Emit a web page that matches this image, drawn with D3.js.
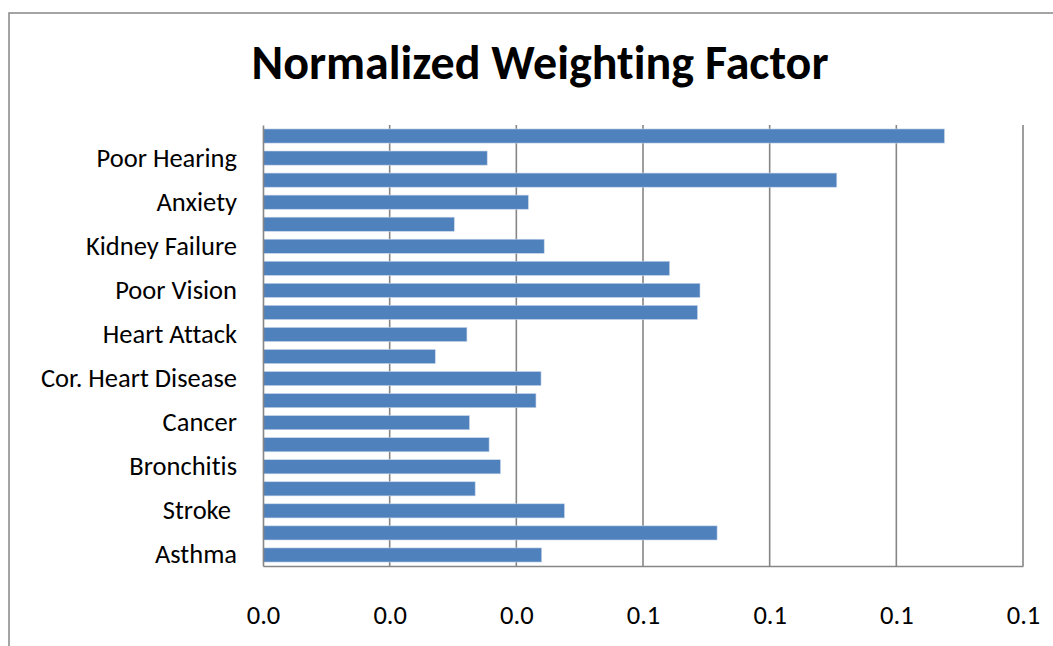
<!DOCTYPE html>
<html>
<head>
<meta charset="utf-8">
<script src="https://cdn.jsdelivr.net/npm/d3@7"></script>
<style>
  html, body { margin: 0; padding: 0; background: #fff; }
  svg { display: block; }
  text { font-family: Carlito, Calibri, Lato, "Open Sans", sans-serif; fill: #000; font-variant-ligatures: none; }
</style>
</head>
<body>
<svg id="chart" width="1053" height="646"></svg>
<script>
// Categories listed from the bottom of the chart to the top; blank entries are unlabelled rows.
const categories = [
  "Asthma", "", "Stroke ", "", "Bronchitis", "", "Cancer", "",
  "Cor. Heart Disease", "", "Heart Attack", "", "Poor Vision", "",
  "Kidney Failure", "", "Anxiety", "", "Poor Hearing", ""
];
const weights = [
  0.0440, 0.0717, 0.0476, 0.0335, 0.0375, 0.0357, 0.0326, 0.0431,
  0.0439, 0.0272, 0.0322, 0.0686, 0.0690, 0.0642, 0.0444, 0.0302,
  0.0419, 0.0906, 0.0354, 0.1076
];
const tickValues = [0, 0.02, 0.04, 0.06, 0.08, 0.10, 0.12];
const title = "Normalized Weighting Factor";

const FONT = "Carlito, Calibri, Lato, 'Open Sans', sans-serif";
const svg = d3.select("#chart");
const plot = { left: 263, right: 1023, top: 125, bottom: 566 };

// Outer chart frame (extends past the window on the right and bottom)
svg.append("rect")
  .attr("x", 9).attr("y", 13)
  .attr("width", 1100).attr("height", 700)
  .attr("fill", "none").attr("stroke", "#868686").attr("stroke-width", 1.5);

svg.append("text")
  .attr("x", 540).attr("y", 79)
  .attr("text-anchor", "middle")
  .attr("font-size", 48).attr("font-weight", "bold")
  .text(title);

const x = d3.scaleLinear().domain([0, 0.12]).range([plot.left, plot.right]);
const idx = d3.range(categories.length);
const y = d3.scaleBand()
  .domain(idx.slice().reverse())
  .range([plot.top, plot.bottom])
  .paddingInner(0.36).paddingOuter(0.18);

// Vertical gridlines
svg.append("g")
  .selectAll("line")
  .data(tickValues.slice(1))
  .join("line")
  .attr("x1", d => x(d)).attr("x2", d => x(d))
  .attr("y1", plot.top).attr("y2", plot.bottom)
  .attr("stroke", "#868686").attr("stroke-width", 1.6);

// Bars
svg.append("g")
  .selectAll("rect")
  .data(idx)
  .join("rect")
  .attr("x", x(0))
  .attr("y", i => y(i))
  .attr("width", i => x(weights[i]) - x(0))
  .attr("height", y.bandwidth())
  .attr("fill", "#4f81bd")
  .attr("stroke", "#c6d5ea").attr("stroke-width", 0.6);

// X axis
const xAxis = svg.append("g")
  .attr("transform", `translate(0,${plot.bottom})`)
  .call(d3.axisBottom(x).tickValues(tickValues).tickFormat(d3.format(".1f")).tickSize(0).tickPadding(39));
xAxis.select(".domain").attr("stroke", "#868686").attr("stroke-width", 1.6);
xAxis.selectAll("text")
  .attr("font-size", 26.5)
  .style("font-family", FONT)
  .attr("fill", "#000");

// Y axis
const yAxis = svg.append("g")
  .attr("transform", `translate(${plot.left},0)`)
  .call(d3.axisLeft(y).tickFormat(i => categories[i]).tickSize(0).tickPadding(26));
yAxis.select(".domain").attr("stroke", "#868686").attr("stroke-width", 1.6);
yAxis.selectAll("text")
  .attr("font-size", 26.5)
  .style("font-family", FONT)
  .style("white-space", "pre")
  .attr("xml:space", "preserve")
  .attr("fill", "#000");
</script>
</body>
</html>
